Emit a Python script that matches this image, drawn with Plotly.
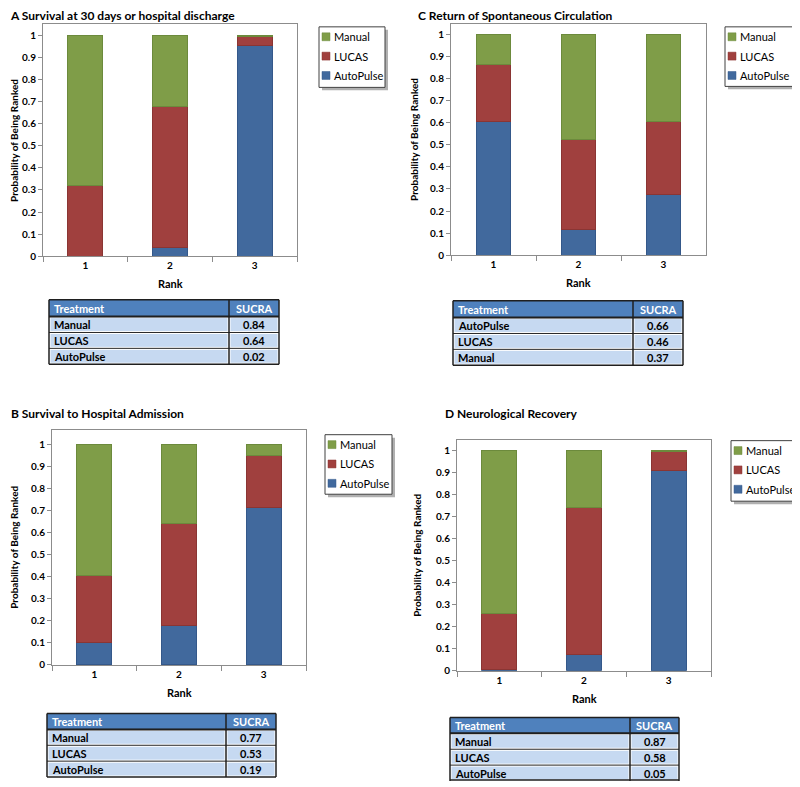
import plotly.graph_objects as go

# The page body has an 8px default margin, so the figure is drawn 8px in from the window's
# top-left corner; reference pixel coordinates are converted with that offset.
WIN_W, WIN_H = 800, 787
OX, OY = 8, 8
W, H = WIN_W - OX, WIN_H - OY

ranks = ["1", "2", "3"]
series_names = ["AutoPulse", "LUCAS", "Manual"]

A_autopulse = [0.0, 0.04, 0.955]
A_lucas = [0.32, 0.64, 0.04]
A_manual = [0.68, 0.32, 0.005]

C_autopulse = [0.605, 0.115, 0.275]
C_lucas = [0.26, 0.41, 0.33]
C_manual = [0.135, 0.475, 0.395]

B_autopulse = [0.10, 0.18, 0.715]
B_lucas = [0.305, 0.46, 0.235]
B_manual = [0.595, 0.36, 0.05]

D_autopulse = [0.005, 0.075, 0.91]
D_lucas = [0.255, 0.665, 0.085]
D_manual = [0.74, 0.26, 0.005]

A_treat = ["Manual", "LUCAS", "AutoPulse"]
A_sucra = ["0.84", "0.64", "0.02"]
C_treat = ["AutoPulse", "LUCAS", "Manual"]
C_sucra = ["0.66", "0.46", "0.37"]
B_treat = ["Manual", "LUCAS", "AutoPulse"]
B_sucra = ["0.77", "0.53", "0.19"]
D_treat = ["Manual", "LUCAS", "AutoPulse"]
D_sucra = ["0.87", "0.58", "0.05"]

table_header = ["Treatment", "SUCRA"]
y_ticks = [0, 0.1, 0.2, 0.3, 0.4, 0.5, 0.6, 0.7, 0.8, 0.9, 1]
y_ticktext = ["0", "0.1", "0.2", "0.3", "0.4", "0.5", "0.6", "0.7", "0.8", "0.9", "1"]

titles = ["A Survival at 30 days or hospital discharge", "C Return of Spontaneous Circulation",
          "B Survival to Hospital Admission", "D Neurological Recovery"]

FONT = "Lato"
COLORS = {"AutoPulse": "#41699D", "LUCAS": "#A0403E", "Manual": "#7F9D48"}
EDGES = {"AutoPulse": "#34588A", "LUCAS": "#8A3533", "Manual": "#6C8A3C"}


def fx(px):
    return (px - OX) / W


def fy(py):
    return 1 - (py - OY) / H


panels = [
    dict(data=(A_autopulse, A_lucas, A_manual), box=(43, 297, 24, 258), one=36,
         leg=(319, 27, 66, 61), title=(8, 16), ytitle=(14, 142), rank=(170, 286),
         table=(A_treat, A_sucra, 49, 229, 279, 302, 17)),
    dict(data=(C_autopulse, C_lucas, C_manual), box=(451, 706, 24, 257), one=35,
         leg=(725, 27, 70, 60), title=(416, 16), ytitle=(414, 141), rank=(578, 285),
         table=(C_treat, C_sucra, 453, 633, 683, 303, 17)),
    dict(data=(B_autopulse, B_lucas, B_manual), box=(52, 306, 433, 670), one=448,
         leg=(325, 438, 67, 60), title=(9, 417), ytitle=(14, 552), rank=(179, 698),
         table=(B_treat, B_sucra, 47, 226, 276, 719, 16)),
    dict(data=(D_autopulse, D_lucas, D_manual), box=(457, 711, 443, 676), one=454,
         leg=(731, 444, 65, 61), title=(443, 417), ytitle=(417, 560), rank=(584, 704),
         table=(D_treat, D_sucra, 450, 630, 679, 723, 16)),
]

fig = go.Figure()
layout = dict(width=W, height=H, margin=dict(l=0, r=0, t=0, b=0),
              paper_bgcolor="white", plot_bgcolor="white", barmode="stack",
              showlegend=False, annotations=[], shapes=[])
ann = layout["annotations"]
shp = layout["shapes"]


def clampy(py):
    return min(max(fy(py), 0), 1)


def clampx(px):
    return min(max(fx(px), 0), 1)


def rect(x0, y0, x1, y1, fill, line=None, lw=0):
    shp.append(dict(type="rect", xref="paper", yref="paper", x0=clampx(x0), x1=clampx(x1),
                    y0=clampy(y1), y1=clampy(y0),
                    fillcolor=fill, line=dict(color=line if line else fill, width=lw), layer="above"))


def hline(x0, x1, y, color, lw):
    shp.append(dict(type="line", xref="paper", yref="paper", x0=fx(x0), x1=fx(x1), y0=clampy(y), y1=clampy(y),
                    line=dict(color=color, width=lw), layer="above"))


def vline(x, y0, y1, color, lw):
    shp.append(dict(type="line", xref="paper", yref="paper", x0=fx(x), x1=fx(x), y0=clampy(y0), y1=clampy(y1),
                    line=dict(color=color, width=lw), layer="above"))


def text(t, x, y, size, color="black", bold=True, xanchor="left", angle=0):
    ann.append(dict(text=t, x=fx(x), y=fy(y), xref="paper", yref="paper", showarrow=False,
                    xanchor=xanchor, yanchor="middle", textangle=angle,
                    font=dict(family=FONT, size=size, color=color, weight="bold" if bold else "normal")))


for i, p in enumerate(panels):
    k = i + 1
    xa = "x" if k == 1 else f"x{k}"
    ya = "y" if k == 1 else f"y{k}"
    for name, vals in zip(series_names, p["data"]):
        fig.add_trace(go.Bar(x=ranks, y=vals, name=name, xaxis=xa, yaxis=ya,
                             marker=dict(color=COLORS[name], line=dict(color=EDGES[name], width=1)),
                             width=0.41))
    x0, x1, yt, yz = p["box"]
    ymax = (yz - yt) / (yz - p["one"])
    xkey = "xaxis" if k == 1 else f"xaxis{k}"
    ykey = "yaxis" if k == 1 else f"yaxis{k}"
    layout[xkey] = dict(domain=[fx(x0), fx(x1)], anchor=ya, type="category",
                        showline=True, linecolor="#8C8C8C", linewidth=1, mirror=True,
                        ticks="outside", tickson="boundaries", ticklen=5, tickcolor="#8C8C8C",
                        showgrid=False, tickfont=dict(family=FONT, size=10, color="black", weight="bold"))
    layout[ykey] = dict(domain=[fy(yz), fy(yt)], anchor=xa, range=[0, ymax],
                        tickvals=y_ticks, ticktext=y_ticktext,
                        showline=True, linecolor="#8C8C8C", linewidth=1, mirror=True,
                        ticks="outside", ticklen=4, tickcolor="#8C8C8C", showgrid=False, zeroline=False,
                        tickfont=dict(family=FONT, size=10, color="black", weight="bold"))

    # legend box
    lx, ly, lw_, lh = p["leg"]
    rect(lx + 3, ly + 3, lx + lw_ + 3, ly + lh + 3, "#B0B0B0")
    rect(lx, ly, lx + lw_, ly + lh, "white", "#404040", 1)
    for j, name in enumerate(["Manual", "LUCAS", "AutoPulse"]):
        cy = ly + 10 + j * 19.5
        rect(lx + 3, cy - 4, lx + 11, cy + 4, COLORS[name], EDGES[name], 0.5)
        text(name, lx + 13, cy, 11, bold=False)

    tx, ty = p["title"]
    text(titles[i], tx, ty, 12)
    yx, yy = p["ytitle"]
    text("Probability of Being Ranked", yx, yy, 10, xanchor="center", angle=-90)
    rx, ry = p["rank"]
    text("Rank", rx, ry, 11, xanchor="center")

    # SUCRA table
    treat, sucra, t0, tm, t1, top, hh = p["table"]
    rh = 16
    bottom = top + hh + rh * len(treat)
    rect(t0, top, t1, top + hh, "#4F81BD")
    for r in range(len(treat)):
        ry0 = top + hh + r * rh
        rect(t0 + 1, ry0 + 1, tm - 1, ry0 + rh - 1, "#C6D9F1", "white", 1)
        rect(tm + 1, ry0 + 1, t1 - 1, ry0 + rh - 1, "#C6D9F1", "white", 1)
        hline(t0, t1, ry0, "#262626", 1)
        text(treat[r], t0 + 3, ry0 + rh / 2, 11)
        text(sucra[r], (tm + t1) / 2, ry0 + rh / 2, 11, xanchor="center")
    text(table_header[0], t0 + 3, top + hh / 2, 11, color="white")
    text(table_header[1], (tm + t1) / 2, top + hh / 2, 11, color="white", xanchor="center")
    hline(t0, t1, top + hh, "#1F1F1F", 2)
    hline(t0, t1, min(bottom, WIN_H - 1), "#1F1F1F", 1.5)
    hline(t0, t1, top, "#1F1F1F", 1.5)
    vline(t0, top, bottom, "#1F1F1F", 1.5)
    vline(t1, top, bottom, "#1F1F1F", 1.5)
    vline(tm, top, bottom, "#1F1F1F", 1.5)

fig.update_layout(**layout)
fig.update_layout(bargap=0.59)
fig.write_html("out.html")
